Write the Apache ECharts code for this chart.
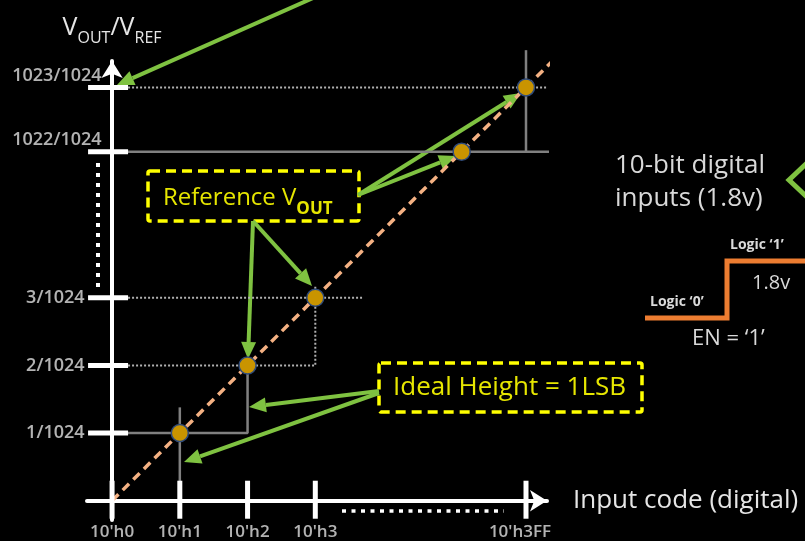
<!DOCTYPE html>
<html>
<head>
<meta charset="utf-8">
<script src="https://cdn.jsdelivr.net/npm/echarts@6/dist/echarts.min.js"></script>
<style>
  html, body { margin: 0; padding: 0; background: #000; }
  #chart { width: 805px; height: 541px; }
</style>
</head>
<body>
<div id="chart"></div>
<script>
// schematic scale: one unit per code step, with a break before 3FF
const xTickPos = [0, 1, 2, 3, 6.11];
const xTickLabels = ["10'h0", "10'h1", "10'h2", "10'h3", "10'h3FF"];
const yTickPos = [1, 2, 3, 5.16, 6.11];
const yTickLabels = ["1/1024", "2/1024", "3/1024", "1022/1024", "1023/1024"];

// reference output points
const refX = [1, 2, 3, 5.16, 6.11];
const refY = [1, 2, 3, 5.16, 6.11];

// ideal transfer line
const idealLine = [[0, 0], [6.56, 6.56]];

// step guides
const stepSolid = [
  [[0, 1], [2, 1], [2, 2]],
  [[1, 0], [1, 1.38]],
  [[0, 5.16], [6.45, 5.16]],
  [[6.11, 5.16], [6.11, 6.66]]
];
const stepDotted = [
  [[0, 2], [3, 2], [3, 3.19]],
  [[0, 3], [3.69, 3]],
  [[0, 6.11], [6.57, 6.11]]
];

const green = "#7fc241";
const font = "Open Sans";

function arrow(x1, y1, x2, y2) {
  const ang = Math.atan2(y2 - y1, x2 - x1);
  const len = 17, half = 7.5;
  const bx = x2 - len * Math.cos(ang), by = y2 - len * Math.sin(ang);
  const px = -Math.sin(ang) * half, py = Math.cos(ang) * half;
  return [
    { type: "line", shape: { x1: x1, y1: y1, x2: bx, y2: by }, style: { stroke: green, lineWidth: 4 } },
    { type: "polygon", shape: { points: [[x2, y2], [bx + px, by + py], [bx - px, by - py]] }, style: { fill: green } }
  ];
}

const chart = echarts.init(document.getElementById("chart"));

const guideSeries = [];
stepSolid.forEach(function (seg) {
  guideSeries.push({
    type: "line", data: seg, symbol: "none", clip: false, silent: true, z: 1,
    lineStyle: { color: "#808080", width: 2.5 }
  });
});
stepDotted.forEach(function (seg) {
  guideSeries.push({
    type: "line", data: seg, symbol: "none", clip: false, silent: true, z: 1,
    lineStyle: { color: "#b0b0b0", width: 2, type: [2, 2] }
  });
});

const axisLine = {
  onZero: true,
  symbol: ["none", "arrow"],
  symbolSize: [16, 17],
  lineStyle: { color: "#fff", width: 4 }
};

let graphics = [
  // axis break marks
  { type: "line", shape: { x1: 98, y1: 163, x2: 98, y2: 288 }, style: { stroke: "#fff", lineWidth: 4, lineDash: [4, 6] } },
  { type: "line", shape: { x1: 342, y1: 511, x2: 504, y2: 511 }, style: { stroke: "#fff", lineWidth: 3.5, lineDash: [4, 5.5] } },
  // annotation boxes
  { type: "rect", shape: { x: 148, y: 171, width: 211, height: 50, r: 2 },
    style: { fill: null, stroke: "#ffff00", lineWidth: 3.5, lineDash: [10, 6] } },
  { type: "text", x: 163, y: 202,
    style: { text: "{a|Reference V}{b|OUT}", verticalAlign: "middle", fill: "#e6e600",
      rich: {
        a: { fontFamily: font, fontSize: 24, fill: "#e6e600", verticalAlign: "top", lineHeight: 24 },
        b: { fontFamily: font, fontSize: 17, fontWeight: "bold", fill: "#e6e600", verticalAlign: "bottom", lineHeight: 31 }
      } } },
  { type: "rect", shape: { x: 379, y: 363, width: 263, height: 49, r: 2 },
    style: { fill: null, stroke: "#ffff00", lineWidth: 3.5, lineDash: [10, 6] } },
  { type: "text", x: 393, y: 388,
    style: { text: "Ideal Height = 1LSB", fontFamily: font, fontSize: 26, fill: "#e6e600", verticalAlign: "middle" } },
  // EN input description
  { type: "text", x: 615, y: 166,
    style: { text: "10-bit digital", fontFamily: font, fontSize: 26, fill: "#d9d9d9", verticalAlign: "middle" } },
  { type: "text", x: 615, y: 199,
    style: { text: "inputs (1.8v)", fontFamily: font, fontSize: 26, fill: "#d9d9d9", verticalAlign: "middle" } },
  { type: "polyline", shape: { points: [[645, 318], [727, 318], [727, 261], [805, 261]] },
    style: { stroke: "#ed7d31", lineWidth: 5, fill: null } },
  { type: "text", x: 730, y: 245,
    style: { text: "Logic \u20181\u2019", fontFamily: font, fontSize: 14, fontWeight: "bold", fill: "#d9d9d9", verticalAlign: "middle" } },
  { type: "text", x: 650, y: 302,
    style: { text: "Logic \u20180\u2019", fontFamily: font, fontSize: 14, fontWeight: "bold", fill: "#d9d9d9", verticalAlign: "middle" } },
  { type: "text", x: 752, y: 283,
    style: { text: "1.8v", fontFamily: font, fontSize: 20, fill: "#d9d9d9", verticalAlign: "middle" } },
  { type: "text", x: 692, y: 339,
    style: { text: "EN = \u20181\u2019", fontFamily: font, fontSize: 22, fill: "#d9d9d9", verticalAlign: "middle" } },
  { type: "polyline", shape: { points: [[807, 163], [789, 180], [807, 197]] },
    style: { stroke: green, lineWidth: 5, fill: null } }
];
graphics = graphics
  .concat(arrow(313, -2, 117, 85))
  .concat(arrow(358, 195, 521, 93))
  .concat(arrow(358, 195, 456, 156))
  .concat(arrow(253, 221, 248, 359))
  .concat(arrow(253, 221, 312, 286))
  .concat(arrow(379, 391, 249, 407))
  .concat(arrow(379, 393, 184, 462));

const option = {
  backgroundColor: "#000",
  animation: false,
  grid: { left: 87, right: 258, top: 61, bottom: 21 },
  xAxis: {
    type: "value", min: -0.37, max: 6.42,
    axisLine: axisLine,
    axisTick: { show: false }, axisLabel: { show: false }, splitLine: { show: false },
    name: "Input code (digital)", nameLocation: "end", nameGap: 26,
    nameTextStyle: { fontFamily: font, fontSize: 26, color: "#e6e6e6", verticalAlign: "middle" }
  },
  yAxis: {
    type: "value", min: -0.285, max: 6.5,
    axisLine: axisLine,
    axisTick: { show: false }, axisLabel: { show: false }, splitLine: { show: false },
    name: "{a|V}{b|OUT}{a|/V}{b|REF}", nameLocation: "end", nameGap: 15,
    nameTextStyle: {
      rich: {
        a: { fontFamily: font, fontSize: 25, color: "#e6e6e6", verticalAlign: "top", lineHeight: 25 },
        b: { fontFamily: font, fontSize: 16, color: "#e6e6e6", verticalAlign: "bottom", lineHeight: 31 }
      }
    }
  },
  graphic: graphics,
  series: guideSeries.concat([
    {
      type: "line", data: idealLine, symbol: "none", clip: false, silent: true, z: 2,
      lineStyle: { color: "#f4b183", width: 3.5, type: [9, 6] }
    },
    {
      type: "scatter", data: xTickPos.map(function (v) { return [v, 0]; }),
      symbol: "rect", symbolSize: [5, 38], symbolOffset: [0, -1], silent: true, z: 3,
      itemStyle: { color: "#fff", opacity: 1 }
    },
    {
      type: "scatter", data: yTickPos.map(function (v) { return [0, v]; }),
      symbol: "rect", symbolSize: [40, 5], symbolOffset: [-4, 0], silent: true, z: 3,
      itemStyle: { color: "#fff", opacity: 1 }
    },
    {
      type: "scatter", symbolSize: 1, silent: true, z: 4,
      itemStyle: { color: "transparent" },
      data: xTickPos.map(function (v, i) {
        return { value: [v, 0], label: { offset: [i === 4 ? -6 : 0, 0] } };
      }),
      label: {
        show: true, position: "bottom", distance: 22,
        fontFamily: font, fontSize: 17, fontWeight: 600, color: "#e0e0e0",
        formatter: function (p) { return xTickLabels[p.dataIndex]; }
      }
    },
    {
      type: "scatter", symbolSize: 1, silent: true, z: 4,
      itemStyle: { color: "transparent" },
      data: yTickPos.map(function (v, i) {
        return i < 3
          ? { value: [0, v], label: { distance: 27 } }
          : { value: [0, v], label: { distance: 10, offset: [0, -12] } };
      }),
      label: {
        show: true, position: "left",
        fontFamily: font, fontSize: 18, fontWeight: 600, color: "#e0e0e0",
        formatter: function (p) { return yTickLabels[p.dataIndex]; }
      }
    },
    {
      type: "scatter", z: 5, silent: true,
      data: refX.map(function (v, i) { return [v, refY[i]]; }),
      symbolSize: 17,
      itemStyle: { color: "#c99400", borderColor: "#2e4a7a", borderWidth: 1.5, opacity: 1 }
    }
  ])
};
chart.setOption(option);
</script>
</body>
</html>
